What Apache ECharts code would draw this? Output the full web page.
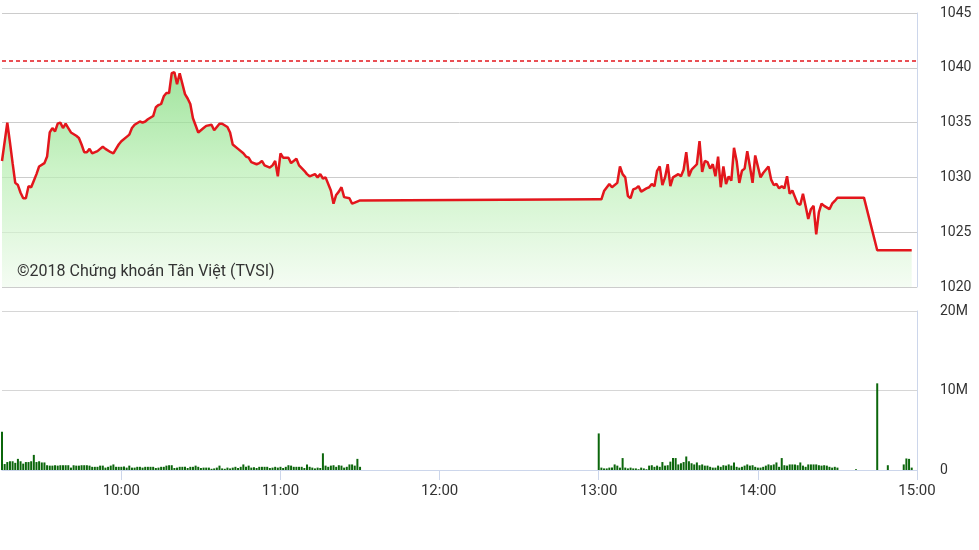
<!DOCTYPE html>
<html>
<head>
<meta charset="utf-8">
<script src="https://cdn.jsdelivr.net/npm/echarts@6/dist/echarts.min.js"></script>
<style>html,body{margin:0;padding:0;background:#fff;}#c{width:979px;height:550px;}</style>
</head>
<body>
<div id="c"></div>
<script>
const priceTimes = ["9:15","9:17","9:18","9:19","9:20","9:21","9:22","9:23","9:24","9:25","9:26","9:27","9:28","9:29","9:31","9:32","9:33","9:34","9:35","9:36","9:37","9:38","9:39","9:40","9:41","9:43","9:44","9:45","9:46","9:47","9:48","9:49","9:51","9:52","9:53","9:54","9:56","9:57","9:58","9:59","10:00","10:02","10:03","10:04","10:05","10:07","10:08","10:09","10:10","10:12","10:13","10:14","10:15","10:16","10:17","10:18","10:19","10:20","10:21","10:22","10:24","10:25","10:26","10:27","10:29","10:31","10:32","10:34","10:35","10:37","10:38","10:40","10:41","10:42","10:44","10:46","10:47","10:48","10:49","10:51","10:52","10:53","10:54","10:56","10:57","10:58","10:59","11:00","11:01","11:02","11:03","11:04","11:06","11:07","11:09","11:10","11:11","11:13","11:14","11:15","11:16","11:17","11:19","11:20","11:21","11:22","11:23","11:24","11:26","11:27","11:28","11:30",
"13:00","13:01","13:02","13:04","13:05","13:07","13:08","13:09","13:10","13:11","13:12","13:13","13:14","13:15","13:16","13:18","13:19","13:20","13:21","13:22","13:23","13:24","13:25","13:26","13:27","13:28","13:30","13:31","13:32","13:33","13:34","13:35","13:37","13:38","13:39","13:40","13:41","13:42","13:43","13:44","13:45","13:46","13:47","13:48","13:49","13:50","13:51","13:52","13:53","13:54","13:55","13:56","13:57","13:58","13:59","14:01","14:02","14:04","14:05","14:06","14:07","14:08","14:09","14:10","14:11","14:12","14:13","14:14","14:15","14:16","14:17","14:18","14:19","14:20","14:21","14:22","14:23","14:24","14:25","14:27","14:28","14:29","14:30","14:40","14:45","14:58"];
const priceValues = [1031.5,1035.0,1033.2,1031.3,1029.5,1029.3,1028.6,1028.1,1028.1,1029.2,1029.1,1029.7,1030.3,1031.0,1031.3,1031.9,1034.1,1034.5,1034.2,1034.9,1035.0,1034.5,1034.9,1034.5,1034.1,1033.8,1033.6,1033.0,1032.3,1032.3,1032.6,1032.2,1032.4,1032.6,1032.8,1032.6,1032.3,1032.2,1032.6,1033.0,1033.3,1033.7,1033.9,1034.5,1034.8,1035.1,1035.0,1035.1,1035.3,1035.6,1036.4,1036.6,1036.7,1037.4,1037.7,1037.7,1039.5,1039.6,1038.5,1039.5,1037.6,1037.2,1036.7,1035.4,1034.1,1034.5,1034.7,1034.8,1034.3,1034.9,1034.9,1034.6,1034.1,1033.0,1032.6,1032.2,1031.9,1031.8,1031.4,1031.2,1031.3,1031.5,1031.1,1030.9,1031.1,1031.5,1030.1,1032.2,1031.8,1031.8,1031.8,1031.3,1031.7,1031.1,1030.6,1030.3,1030.1,1030.3,1030.0,1030.3,1029.9,1030.0,1028.8,1027.6,1028.4,1028.7,1029.1,1028.2,1028.1,1027.6,1027.7,1027.9,
1028.0,1028.0,1028.75,1029.4,1029.1,1029.5,1031.0,1030.3,1030.0,1028.3,1028.1,1028.9,1029.0,1029.2,1028.7,1029.0,1029.1,1029.4,1029.2,1030.6,1031.0,1029.3,1030.0,1031.2,1029.2,1030.0,1030.3,1030.1,1030.7,1032.3,1030.1,1030.7,1031.2,1033.3,1030.5,1031.5,1031.4,1030.8,1031.2,1030.1,1031.9,1029.1,1031.0,1029.4,1030.1,1029.7,1032.7,1031.5,1029.5,1030.6,1030.8,1032.4,1031.0,1029.5,1032.0,1030.0,1030.4,1031.0,1029.8,1029.3,1029.4,1029.0,1029.2,1029.0,1030.1,1028.5,1028.8,1028.2,1027.6,1027.5,1028.5,1027.4,1026.2,1027.1,1027.4,1024.8,1026.8,1027.6,1027.4,1027.1,1027.6,1027.85,1028.15,1028.15,1023.35,1023.35];
const refPrice = 1040.6;
const xTickLabels = ["10:00","11:00","12:00","13:00","14:00","15:00"];
const xStart = "9:15", xEnd = "15:00";
const morningStart = "9:15";
const morningVolume = [4.8,0.75,1.0,1.1,1.1,0.9,1.4,1.1,0.8,1.0,1.0,1.1,1.9,1.0,1.1,0.95,0.95,0.6,0.55,0.55,0.6,0.55,0.6,0.6,0.6,0.6,0.3,0.6,0.55,0.55,0.6,0.6,0.6,0.55,0.4,0.4,0.4,0.55,0.55,0.3,0.4,0.55,0.7,0.4,0.4,0.4,0.45,0.3,0.55,0.3,0.3,0.4,0.4,0.3,0.4,0.4,0.4,0.4,0.25,0.3,0.4,0.4,0.55,0.6,0.6,0.25,0.3,0.4,0.4,0.4,0.25,0.4,0.4,0.55,0.4,0.25,0.3,0.3,0.3,0.15,0.2,0.3,0.55,0.2,0.15,0.3,0.2,0.3,0.4,0.25,0.4,0.7,0.4,0.55,0.3,0.35,0.25,0.4,0.4,0.4,0.4,0.25,0.3,0.4,0.3,0.4,0.25,0.4,0.6,0.55,0.4,0.4,0.4,0.4,0.25,0.7,0.4,0.3,0.2,0.3,0.25,2.1,0.55,0.4,0.55,0.6,0.4,0.6,0.55,0.3,0.4,0.7,0.7,0.55,1.4,0.4];
const afternoonStart = "13:00";
const afternoonVolume = [4.6,0.3,0.2,0.2,0.3,0.3,0.7,0.55,0.3,1.5,0.3,0.2,0.3,0.2,0.2,0.1,0.3,0.2,0.1,0.55,0.6,0.4,0.55,0.4,1.0,0.55,0.6,1.05,1.5,1.5,0.7,0.85,1.0,1.7,1.1,0.85,0.7,0.95,0.6,0.7,0.55,0.55,0.4,0.3,0.3,0.55,0.4,0.6,0.55,0.7,0.55,0.95,0.4,0.3,0.4,0.55,0.7,0.55,0.6,0.4,0.3,0.3,0.4,0.55,0.7,0.6,0.7,0.95,0.4,1.5,0.6,0.55,0.7,0.7,0.7,0.6,0.95,0.55,0.4,0.7,0.7,0.7,0.7,0.6,0.55,0.6,0.55,0.4,0.3,0.4,0.3,
null,null,null,null,null,null,0.1,null,null,null,null,null,null,null,10.9,null,null,null,0.6,null,null,null,null,null,0.7,1.45,1.4,0.3];
const copyright = "©2018 Chứng khoán Tân Việt (TVSI)";

function toMin(s){ const p = s.split(':'); return (+p[0]) * 60 + (+p[1]); }
function fmt(v){ const h = Math.floor(v / 60), m = Math.round(v % 60); return h + ':' + (m < 10 ? '0' : '') + m; }

const priceData = priceTimes.map((t, i) => [toMin(t), priceValues[i]]);
const volData = [];
morningVolume.forEach((v, i) => { if (v != null) volData.push([toMin(morningStart) + i, v]); });
afternoonVolume.forEach((v, i) => { if (v != null) volData.push([toMin(afternoonStart) + i, v]); });
const tickVals = xTickLabels.map(toMin);

const chart = echarts.init(document.getElementById('c'), null, { renderer: 'canvas' });
const axisCol = '#ccd6eb';
const textCol = '#333';
chart.setOption({
  animation: false,
  backgroundColor: '#fff',
  textStyle: { fontFamily: 'Roboto' },
  grid: [
    { left: 2, right: 62, top: 13, height: 274, containLabel: false, outerBoundsMode: 'none' },
    { left: 2, right: 62, top: 311, height: 159, containLabel: false, outerBoundsMode: 'none' }
  ],
  xAxis: [
    { type: 'value', gridIndex: 0, min: toMin(xStart), max: toMin(xEnd),
      axisLine: { show: false }, axisTick: { show: false }, axisLabel: { show: false }, splitLine: { show: false } },
    { type: 'value', gridIndex: 1, min: toMin(xStart), max: toMin(xEnd),
      axisLine: { show: true, lineStyle: { color: axisCol } },
      axisTick: { show: true, length: 10, lineStyle: { color: axisCol }, customValues: tickVals },
      axisLabel: { formatter: fmt, color: textCol, fontSize: 15, margin: 14, fontFamily: 'Roboto', customValues: tickVals },
      splitLine: { show: false } }
  ],
  yAxis: [
    { type: 'value', gridIndex: 0, position: 'right', min: 1020, max: 1045, interval: 5,
      axisLine: { show: true, lineStyle: { color: axisCol } }, axisTick: { show: false },
      axisLabel: { color: textCol, fontSize: 14, margin: 23, fontFamily: 'Roboto', formatter: v => String(v) },
      splitLine: { show: true, lineStyle: { color: '#cccccc' } } },
    { type: 'value', gridIndex: 1, position: 'right', min: 0, max: 20, interval: 10,
      axisLine: { show: true, lineStyle: { color: axisCol } }, axisTick: { show: false },
      axisLabel: { color: textCol, fontSize: 14, margin: 23, fontFamily: 'Roboto',
        formatter: v => v === 0 ? '0' : v + 'M' },
      splitLine: { show: true, lineStyle: { color: '#d6d6d6' } } }
  ],
  graphic: [
    { type: 'text', left: 17, top: 264, z: 100,
      style: { text: copyright, fill: textCol, font: '16px Roboto' } }
  ],
  series: [
    { type: 'line', xAxisIndex: 0, yAxisIndex: 0, data: priceData, showSymbol: false, symbol: 'none',
      lineStyle: { color: '#e3161c', width: 2.5 },
      areaStyle: { origin: 'start', color: new echarts.graphic.LinearGradient(0, 0, 0, 1, [
        { offset: 0, color: '#7ad875' }, { offset: 0.45, color: '#b6eeb0' }, { offset: 1, color: '#f0fbee' }]) },
      markLine: { silent: true, symbol: ['none', 'none'], label: { show: false },
        lineStyle: { color: '#e3161c', type: [4, 3], width: 1.5, opacity: 1 },
        emphasis: { disabled: true },
        data: [{ yAxis: refPrice, lineStyle: { color: '#e3161c' } }] } },
    { type: 'bar', xAxisIndex: 1, yAxisIndex: 1, data: volData, barWidth: 2,
      itemStyle: { color: '#0b660b' } }
  ]
});
</script>
</body>
</html>
